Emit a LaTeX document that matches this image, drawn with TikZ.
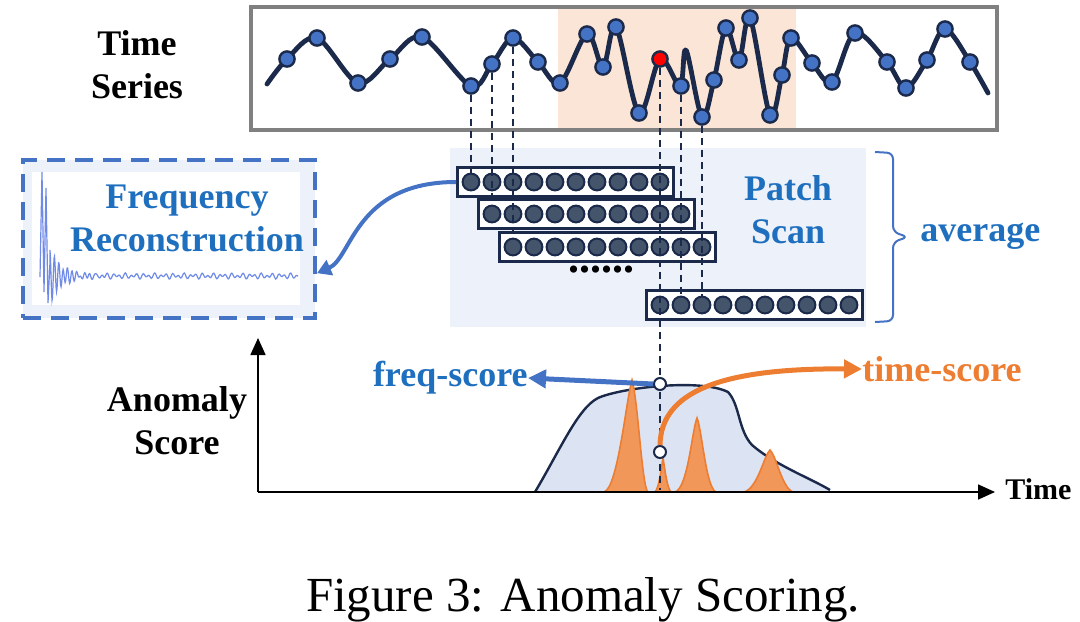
\documentclass[tikz,border=0pt]{standalone}
\usepackage{fontspec}
\setmainfont{Liberation Serif}
\usepackage{xcolor}
\definecolor{navy}{HTML}{1B2A4A}
\definecolor{dotblue}{HTML}{4472C4}
\definecolor{slate}{HTML}{44546A}
\definecolor{textblue}{HTML}{1F6FBF}
\definecolor{lineblue}{HTML}{4472C4}
\definecolor{peach}{HTML}{FBE5D6}
\definecolor{paleblue}{HTML}{EDF1F9}
\definecolor{chartblue}{HTML}{DCE4F3}
\definecolor{scoreorange}{HTML}{ED7D31}
\definecolor{signal}{HTML}{6F8AE8}
\definecolor{framegray}{HTML}{808080}
\usetikzlibrary{arrows.meta,positioning}
\tikzset{
  tsdot/.style={draw=navy,line width=1.2pt,circle,fill=dotblue,minimum size=7.6pt,inner sep=0pt},
  patchdot/.style={draw=navy,line width=1pt,circle,fill=slate,minimum size=8.4pt,inner sep=0pt},
  patchrow/.style={draw=navy,line width=1.4pt,fill=white,minimum width=108pt,minimum height=14.5pt,inner sep=0pt},
  scorept/.style={draw=navy,line width=1pt,circle,fill=white,minimum size=6pt,inner sep=0pt},
  guide/.style={navy,line width=1pt,dash pattern=on 3.5pt off 2.5pt},
  bigtext/.style={font=\bfseries\fontsize{18}{21.5}\selectfont,align=center,inner sep=0pt},
  bluetext/.style={bigtext,text=textblue},
  scorearrow/.style={line width=2.5pt,-{Triangle[length=9pt,width=9pt]}},
  peak/.style={fill=scoreorange!80,draw=scoreorange,line width=0.8pt}
}
\begin{document}
\begin{tikzpicture}[x=0.5pt,y=-0.5pt]
\useasboundingbox (0,0) rectangle (1080,621);
% time series strip
\fill[peach] (558,5) rectangle (796,129);
\draw[framegray,line width=2pt] (251,7) rectangle (997,130);
\node[bigtext] (tslabel) at (137,65) {Time\\Series};
\draw[navy,line width=2.4pt,line cap=round,line join=round] plot[smooth,tension=0.55] coordinates {
  (267,84) (287,59) (317,38) (358,83) (390,59) (422,37) (471,86) (492,64) (513,38) (538,62)
  (560,83) (587,34) (603,67) (616,27) (639,113) (660,59) (680,86) (686,50) (702,117) (714,80)
  (726,28) (739,60) (750,18) (770,115) (782,75) (791,38) (812,63) (832,82) (855,33) (887,62)
  (906,88) (927,60) (945,29) (970,62) (988,93)};
\foreach \x/\y [count=\i] in {287/59,317/38,358/83,390/59,422/37,471/86,492/64,513/38,538/62,560/83,
  587/34,603/67,616/27,639/113,681/86,702/117,714/80,726/28,739/60,750/18,770/115,782/75,791/38,
  812/63,832/82,855/33,887/62,906/88,927/60,945/29,970/62}
  \node[tsdot] (t\i) at (\x,\y) {};
\node[tsdot,fill=red] (tred) at (660,59) {};
% patch scan
\fill[paleblue] (450,148) rectangle (866,327);
\node[bluetext] (scan) at (788,210) {Patch\\Scan};
\foreach \r/\x/\y in {1/471/182,2/492/214,3/513/247,4/660/305}{
  \node[patchrow] (row\r) at (\x+94.5,\y) {};
  \foreach \k in {1,...,10}
    \node[patchdot] (p\r-\k) at (\x+21*\k-21,\y) {};
}
\node[bigtext,font=\bfseries\fontsize{22}{24}\selectfont] (more) at (601,270) {......};
\draw[lineblue,line width=1pt,rounded corners=3pt] (875,152) -- (893,153) -- (893,232) -- (908,237) -- (893,242) -- (893,321) -- (875,322);
\node[bluetext,anchor=west] (avg) at (920,236) {average};
% frequency view
\node[draw=lineblue,fill=paleblue,line width=2pt,dash pattern=on 9pt off 5pt,minimum width=146pt,minimum height=79pt] (freqbox) at (169,239) {};
\fill[white] (32,172) rectangle (300,305);
\draw[signal,line width=0.6pt] (40,277) -- (42,172) -- (44,292) -- (46,188) -- (48,303) -- (50,262)
  -- plot[domain=50:120,samples=140] (\x,{276-26*exp(-(\x-50)/13)*cos(82*(\x-50))+1.8*sin((\x-50)*61)+1.3*sin((\x-50)*37)})
  -- plot[domain=120:298,samples=200] (\x,{276+1.8*sin((\x-50)*61)+1.3*sin((\x-50)*37)});
\node[bluetext] (freq) at (187,218) {Frequency\\Reconstruction};
\draw[lineblue,line width=2pt,-{Triangle[length=7pt,width=8pt]}] (row1.west) .. controls (355,182) and (352,258) .. (freqbox.-13);
% score chart
\coordinate (origin) at (258,492);
\coordinate (ytop) at (258,338);
\coordinate (xend) at (995,492);
\coordinate (foot) at (660,490);
\fill[chartblue] (535,492) .. controls (560,450) and (578,408) .. (598,398) .. controls (620,388) and (700,378) .. (728,392)
  .. controls (740,405) and (738,430) .. (752,445) .. controls (775,465) and (810,478) .. (830,490) -- (830,492) -- cycle;
\draw[navy,line width=1.2pt] (535,492) .. controls (560,450) and (578,408) .. (598,398) .. controls (620,388) and (700,378) .. (728,392)
  .. controls (740,405) and (738,430) .. (752,445) .. controls (775,465) and (810,478) .. (830,490);
\draw[peak] (604,492) .. controls (618,488) and (626,400) .. (632,380) .. controls (638,400) and (642,488) .. (648,492) -- cycle;
\draw[peak] (655,492) .. controls (659,488) and (661,470) .. (663,458) .. controls (665,470) and (667,488) .. (671,492) -- cycle;
\draw[peak] (675,492) .. controls (688,488) and (692,430) .. (697,418) .. controls (702,430) and (706,488) .. (716,492) -- cycle;
\draw[peak] (744,492) .. controls (758,488) and (764,455) .. (770,450) .. controls (776,455) and (782,488) .. (793,492) -- cycle;
\draw[line width=0.8pt,-{Triangle[length=8.5pt,width=7.5pt]}] (origin) -- (ytop);
\draw[line width=0.8pt,-{Triangle[length=8.5pt,width=7.5pt]}] (origin) -- (xend);
\node[bigtext] (ylabel) at (177,421) {Anomaly\\Score};
\node[bigtext,font=\bfseries\fontsize{15}{18}\selectfont,anchor=west] (xlabel) at (1005,489) {Time};
% guides from the series
\draw[guide] (t6.south) -- (p1-1);
\draw[guide] (t7.south) -- (p2-1);
\draw[guide] (t8.south) -- (p3-1);
\draw[guide] (tred.south) -- (foot);
\draw[guide] (t15.south) -- (p4-2);
\draw[guide] (t16.south) -- (p4-3);
% scores
\node[scorept] (fs) at (660,384) {};
\node[scorept] (ts) at (660,452) {};
\node[bluetext,anchor=east] (fscore) at (528,378) {freq-score};
\node[bigtext,text=scoreorange,anchor=west] (tscore) at (862,369) {time-score};
\draw[lineblue,scorearrow] (fs.west) -- (fscore.east);
\draw[scoreorange,scorearrow] (ts.north) .. controls (661,392) and (720,368) .. (tscore.west);
\node[font=\fontsize{24.5}{29}\selectfont] (caption) at (583,600) {Figure 3: Anomaly Scoring.};
\end{tikzpicture}
\end{document}
